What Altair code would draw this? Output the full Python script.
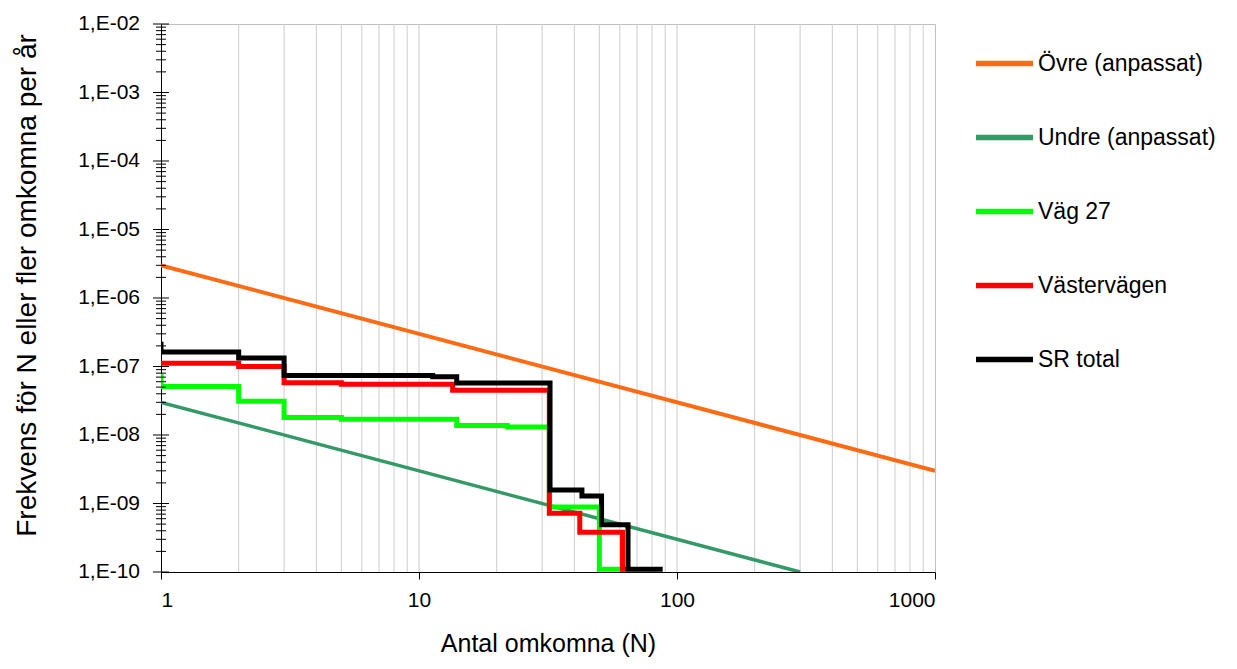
import altair as alt
import pandas as pd

# ---------------- data ----------------
SERIES = ["Övre (anpassat)", "Undre (anpassat)", "Väg 27", "Västervägen", "SR total"]
COLORS = ["#FF6A13", "#339966", "#00FF00", "#FF0000", "#000000"]

OVRE_N = [1, 1000]
OVRE_F = [3.0e-6, 3.0e-9]

UNDRE_N = [1, 300]
UNDRE_F = [3.0e-8, 1.0e-10]

VAG27_N = [1, 1, 2, 3, 5, 14, 22, 32, 50, 62.5]
VAG27_F = [7.8e-8, 5.1e-8, 3.1e-8, 1.8e-8, 1.7e-8, 1.38e-8, 1.31e-8, 8.9e-10, 1.1e-10, 1.1e-10]

VASTER_N = [1, 2, 3, 5, 13.5, 32, 42, 61.5, 64]
VASTER_F = [1.12e-7, 1.0e-7, 5.8e-8, 5.5e-8, 4.5e-8, 7.2e-10, 3.8e-10, 1.1e-10, 1.1e-10]

SR_N = [1, 1, 2, 3, 11.3, 14, 32.2, 42.8, 51, 64.6, 88]
SR_F = [2.3e-7, 1.63e-7, 1.33e-7, 7.4e-8, 7.1e-8, 5.75e-8, 1.58e-9, 1.29e-9, 4.9e-10, 1.1e-10, 1.1e-10]

X_TICKS = [1, 10, 100, 1000]
Y_TICKS = [1e-10, 1e-9, 1e-8, 1e-7, 1e-6, 1e-5, 1e-4, 1e-3, 1e-2]
Y_LABELS = ["1,E-10", "1,E-09", "1,E-08", "1,E-07", "1,E-06", "1,E-05", "1,E-04", "1,E-03", "1,E-02"]
MINOR_MULT = [2, 3, 4, 5, 6, 7, 8, 9]

X_GRID = [m * d for d in [1, 10, 100] for m in MINOR_MULT] + [10, 100]
Y_MINOR = [m * t for t in Y_TICKS[:-1] for m in MINOR_MULT]

FONT = "Liberation Sans"


def frame(name, ns, fs):
    return pd.DataFrame({"series": name, "N": ns, "F": fs, "i": list(range(len(ns)))})


xscale = alt.Scale(type="log", domain=[1, 1000], nice=False)
yscale = alt.Scale(type="log", domain=[1e-10, 1e-2], nice=False)
cscale = alt.Scale(domain=SERIES, range=COLORS)

x_axis = alt.Axis(values=X_TICKS, format="d", grid=False,
                  ticks=True, tickSize=7, tickColor="black", domainColor="black",
                  labelFont=FONT, labelFontSize=21, labelColor="black", labelPadding=10,
                  title="Antal omkomna (N)", titleFont=FONT, titleFontSize=25,
                  titleFontWeight="normal", titleColor="black",
                  titleBaseline="alphabetic", titleY=79)
y_axis = alt.Axis(values=Y_TICKS, labels=False, grid=False, ticks=False,
                  domainColor="black",
                  title="Frekvens för N eller fler omkomna per år", titleFont=FONT,
                  titleFontSize=28, titleFontWeight="normal", titleColor="black",
                  titleBaseline="middle", titleX=-134, titleY=261)

legend = alt.Legend(title=None, orient="none", legendX=812, legendY=8, symbolType="stroke",
                    symbolSize=3249, symbolStrokeWidth=5.5, labelFont=FONT, labelFontSize=23,
                    labelColor="black", labelOffset=2, rowPadding=30, padding=0, labelLimit=0)

color = alt.Color("series:N", scale=cscale, legend=legend)

grid = alt.Chart(pd.DataFrame({"v": X_GRID})).mark_rule(color="#CCCCCC", strokeWidth=1).encode(
    x=alt.X("v:Q", scale=xscale, axis=x_axis))


def line_layer(df, width, step):
    mark = alt.Chart(df).mark_line(strokeWidth=width, clip=True,
                                   interpolate="step-after" if step else "linear",
                                   strokeJoin="miter", strokeCap="butt")
    return mark.encode(
        x=alt.X("N:Q", scale=xscale, axis=x_axis),
        y=alt.Y("F:Q", scale=yscale, axis=y_axis),
        color=color,
        order=alt.Order("i:Q"))


ovre = line_layer(frame(SERIES[0], OVRE_N, OVRE_F), 4, False)
undre = line_layer(frame(SERIES[1], UNDRE_N, UNDRE_F), 3.5, False)
vag = line_layer(frame(SERIES[2], VAG27_N, VAG27_F), 5, True)
vaster = line_layer(frame(SERIES[3], VASTER_N, VASTER_F), 5, True)
sr = line_layer(frame(SERIES[4], SR_N, SR_F), 5, True)

ymajor = alt.Chart(pd.DataFrame({"v": Y_TICKS})).mark_rule(color="black", strokeWidth=1).encode(
    y=alt.Y("v:Q", scale=yscale, axis=y_axis), x=alt.value(-8), x2=alt.value(8))
yminor = alt.Chart(pd.DataFrame({"v": Y_MINOR})).mark_rule(color="black", strokeWidth=1).encode(
    y=alt.Y("v:Q", scale=yscale, axis=y_axis), x=alt.value(-5), x2=alt.value(5))
ylabels = alt.Chart(pd.DataFrame({"v": Y_TICKS, "lab": Y_LABELS})).mark_text(
    align="right", baseline="middle", font=FONT, fontSize=21, color="black").encode(
    y=alt.Y("v:Q", scale=yscale, axis=y_axis), x=alt.value(-21), text="lab:N")

chart = alt.layer(grid, ovre, undre, vag, vaster, sr, ymajor, yminor, ylabels).properties(
    width=774, height=548,
    autosize=alt.AutoSizeParams(type="none"),
    padding={"left": 153, "top": 16, "right": 280, "bottom": 85},
).configure_view(stroke="#C0C0C0", strokeWidth=1)

chart.save("out.html", embed_options={"renderer": "svg", "actions": False})
